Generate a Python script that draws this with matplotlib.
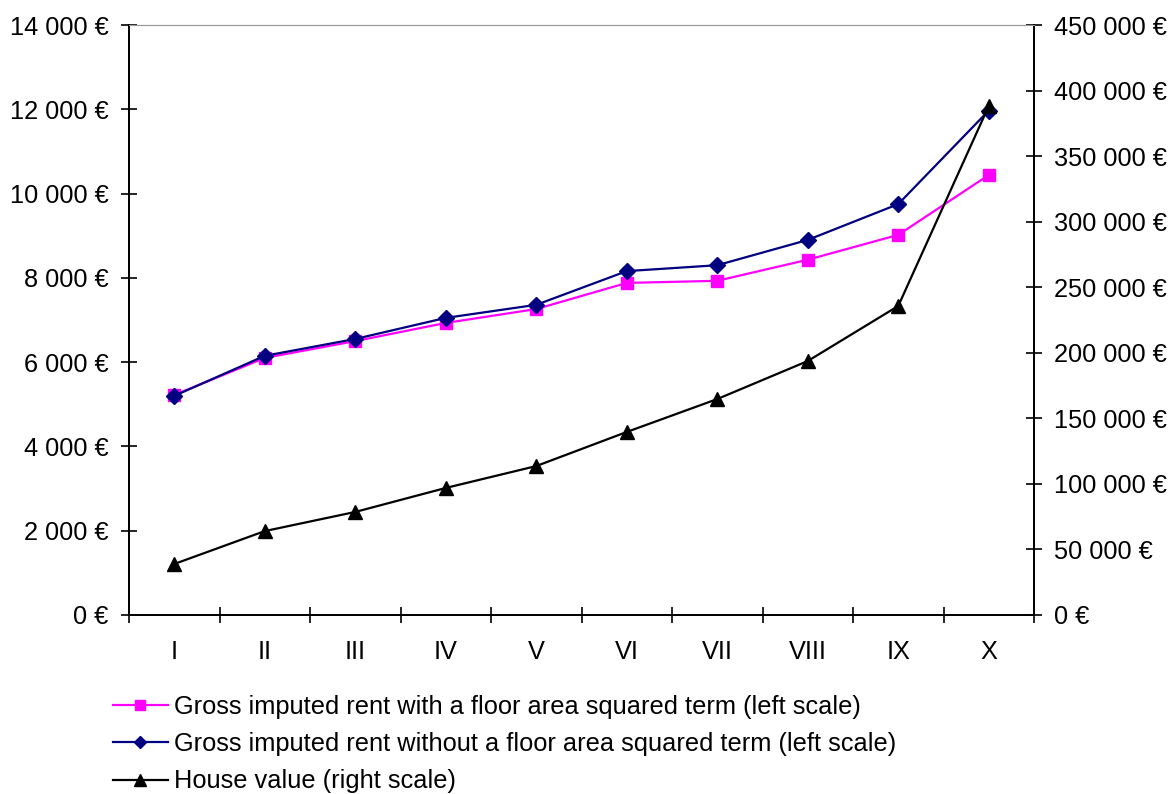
import matplotlib.pyplot as plt
from matplotlib.ticker import FuncFormatter, MultipleLocator, FixedLocator

plt.rcParams['font.family'] = ['Liberation Sans', 'DejaVu Sans']

deciles = ["I", "II", "III", "IV", "V", "VI", "VII", "VIII", "IX", "X"]
rent_with_sq = [5220, 6100, 6500, 6930, 7260, 7880, 7930, 8430, 9020, 10440]
rent_without_sq = [5200, 6150, 6550, 7050, 7360, 8160, 8300, 8900, 9750, 11970]
house_value = [38900, 64000, 78600, 96900, 113600, 139600, 164700, 193700, 235700, 388200]

FS = 18.3

def euro(v, pos=None):
    return "{:,.0f} €".format(v).replace(",", " ")

fig = plt.figure(figsize=(11.75, 7.94), dpi=100)
ax = fig.add_axes([129 / 1175, 1 - 615 / 794, (1034 - 129) / 1175, (615 - 25) / 794])
ax2 = ax.twinx()

x = list(range(len(deciles)))
l1, = ax.plot(x, rent_with_sq, color="#FF00FF", lw=1.6, marker="s", ms=8.5, zorder=3)
l2, = ax.plot(x, rent_without_sq, color="#000080", lw=1.6, marker="D", ms=8, zorder=4)
l3, = ax2.plot(x, house_value, color="black", lw=1.6, marker="^", ms=10, zorder=3)

ax.set_xlim(-0.5, len(deciles) - 0.5)
ax.set_ylim(0, 14000)
ax2.set_ylim(0, 450000)

ax.yaxis.set_major_locator(MultipleLocator(2000))
ax.yaxis.set_major_formatter(FuncFormatter(euro))
ax2.yaxis.set_major_locator(MultipleLocator(50000))
ax2.yaxis.set_major_formatter(FuncFormatter(euro))

ax.set_xticks(x)
ax.set_xticklabels(deciles)
ax.xaxis.set_minor_locator(FixedLocator([i - 0.5 for i in range(len(deciles) + 1)]))
ax.tick_params(axis="x", which="major", length=0, pad=18, labelsize=FS)
ax.tick_params(axis="x", which="minor", direction="inout", length=11.5, width=1.2)
ax.tick_params(axis="y", direction="inout", length=11.5, width=1.2, pad=9, labelsize=FS)
ax2.tick_params(axis="y", direction="inout", length=11.5, width=1.2, pad=9, labelsize=FS)

for a in (ax, ax2):
    a.spines["top"].set_color("#999999")
    for s in ("left", "right", "bottom"):
        a.spines[s].set_linewidth(1.3)

labels = [
    "Gross imputed rent with a floor area squared term (left scale)",
    "Gross imputed rent without a floor area squared term (left scale)",
    "House value (right scale)",
]
fig.legend([l1, l2, l3], labels, loc="upper left", bbox_to_anchor=(113 / 1175, 1 - 695 / 794),
           frameon=False, fontsize=FS, handlelength=2.16, handletextpad=0.25,
           labelspacing=0.52, borderpad=0, borderaxespad=0, markerscale=0.8)

fig.savefig("out.png", dpi=100)
